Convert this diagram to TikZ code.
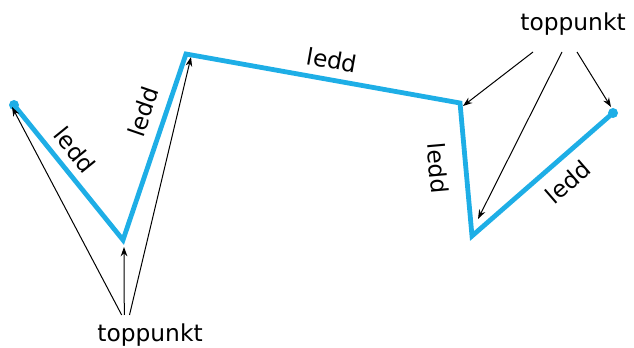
\documentclass[tikz,border=0pt]{standalone}
\usepackage{fontspec}
\setmainfont{DejaVu Sans}
\usetikzlibrary{arrows.meta}
\definecolor{ledcol}{HTML}{1EAEE6}
\tikzset{
  ledline/.style={draw=ledcol, line width=3.6pt, line join=miter},
  lbl/.style={font=\fontsize{17.5pt}{20pt}\selectfont, inner sep=0pt},
  ptr/.style={draw=black, line width=0.75pt, -{Stealth[length=7pt,width=5pt]}},
  enddot/.style={circle, fill=ledcol, minimum size=7.5pt, inner sep=0pt}
}
\begin{document}
\begin{tikzpicture}[x=0.75pt,y=-0.75pt]
\useasboundingbox (0,0) rectangle (634,348);
% vertices
\coordinate (A) at (14,105);
\coordinate (B) at (123,240);
\coordinate (C) at (186,54);
\coordinate (D) at (460,103);
\coordinate (E) at (472,236);
\coordinate (F) at (613,113);
\draw[ledline] (A) -- (B) -- (C) -- (D) -- (E) -- (F);
\node[enddot] (dA) at (A) {};
\node[enddot] (dF) at (F) {};
% segment labels
\node[lbl, rotate=-51] (l1) at (75,150) {ledd};
\node[lbl, rotate=71] (l2) at (143,112) {ledd};
\node[lbl, rotate=-10] (l3) at (332,60) {ledd};
\node[lbl, rotate=-85] (l4) at (438,168) {ledd};
\node[lbl, rotate=41] (l5) at (568,182) {ledd};
% toppunkt labels
\node[lbl] (tb) at (150,335) {toppunkt};
\node[lbl] (tt) at (573,24) {toppunkt};
% arrow start points
\coordinate (s1) at (121.7,315);
\coordinate (s2) at (124.3,315);
\coordinate (s3) at (129.5,315);
\coordinate (s4) at (533,52);
\coordinate (s5) at (562,52);
\coordinate (s6) at (577,52);
% arrow tips
\coordinate (pA) at (12,107);
\coordinate (pB) at (124,247);
\coordinate (pC) at (191,57);
\coordinate (pD) at (463,106);
\coordinate (pE) at (478,219);
\coordinate (pF) at (611,107);
\draw[ptr] (s1) -- (pA);
\draw[ptr] (s2) -- (pB);
\draw[ptr] (s3) -- (pC);
\draw[ptr] (s4) -- (pD);
\draw[ptr] (s5) -- (pE);
\draw[ptr] (s6) -- (pF);
\end{tikzpicture}
\end{document}
